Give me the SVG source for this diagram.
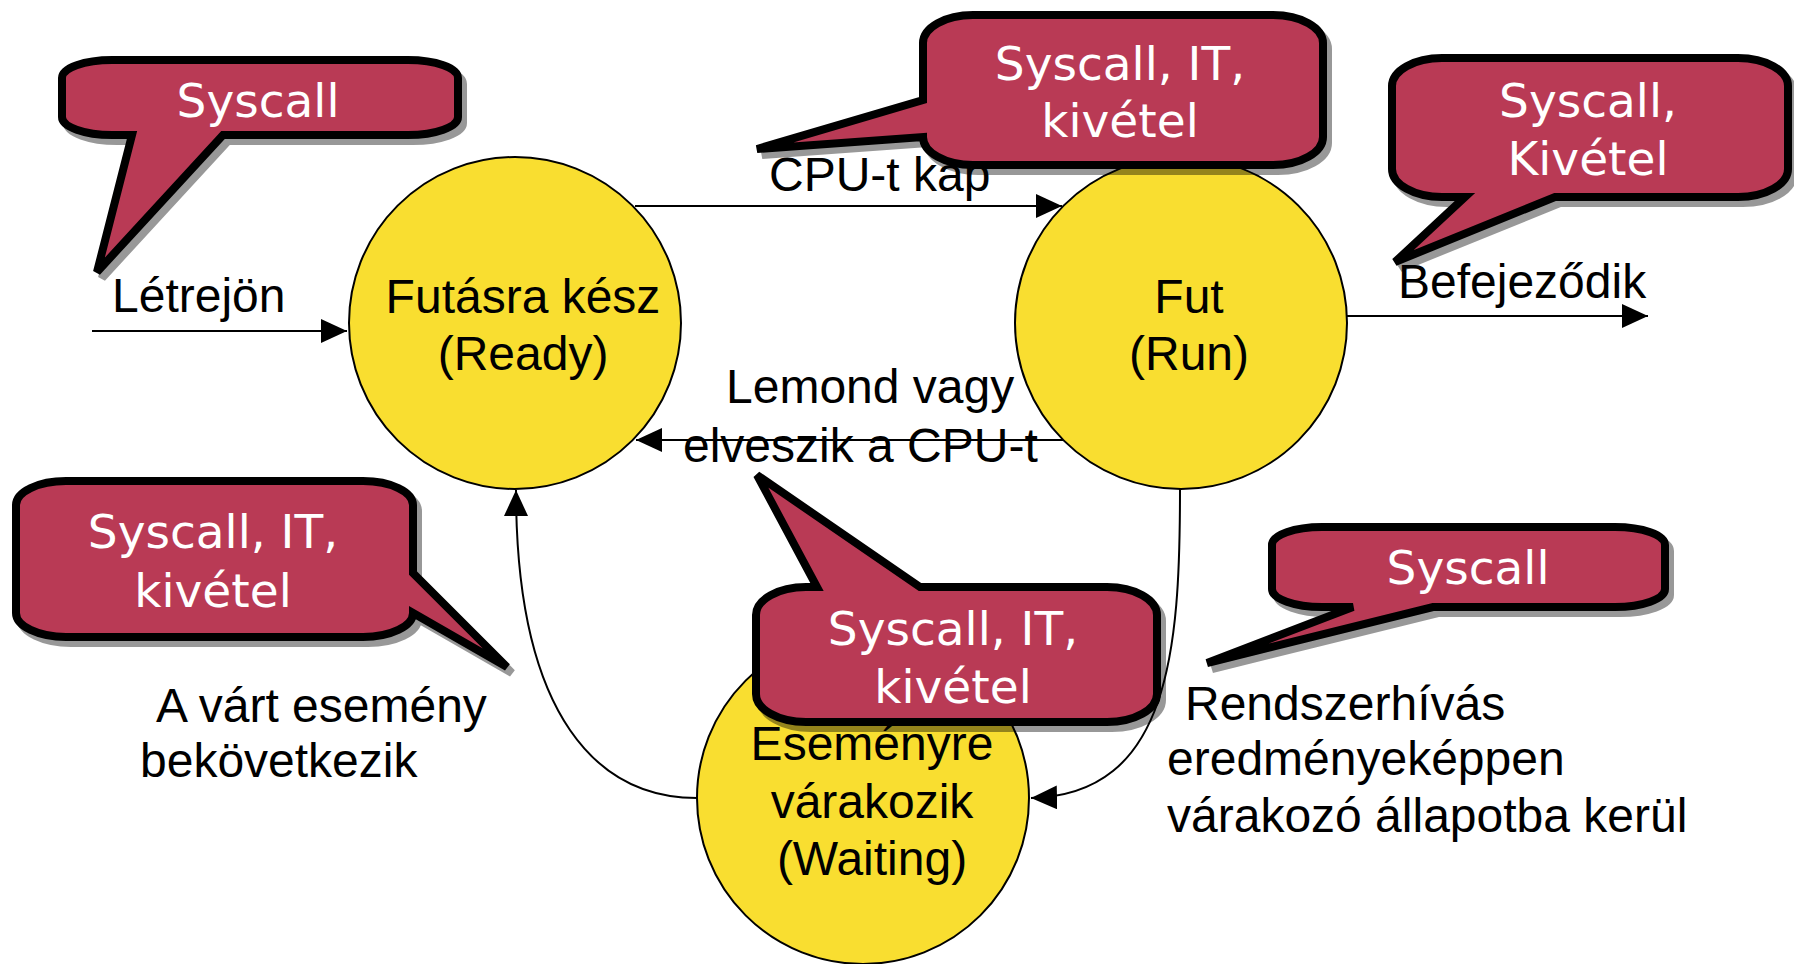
<svg xmlns="http://www.w3.org/2000/svg" width="1794" height="964" viewBox="0 0 1794 964">
<defs>
<style>
.state{fill:#F9DE30;stroke:#000;stroke-width:2}
.conn{fill:none;stroke:#000;stroke-width:2}
.lbl{font-family:"Liberation Sans",Arial,sans-serif;font-size:48px;fill:#000}
.st{font-family:"Liberation Sans",Arial,sans-serif;font-size:48px;fill:#000;text-anchor:middle}
.bub{fill:#B93A55;stroke:#000;stroke-width:8;stroke-linejoin:miter}
.shd{fill:#000;stroke:#000;stroke-width:8;opacity:0.4}
.bt{font-family:"DejaVu Sans",Verdana,sans-serif;font-size:47px;fill:#fff;text-anchor:middle}
</style>
<marker id="arr" markerUnits="userSpaceOnUse" markerWidth="28" markerHeight="26" refX="26" refY="12" orient="auto">
<path d="M0,0 L26,12 L0,24 Z" fill="#000"/>
</marker>
</defs>
<rect width="1794" height="964" fill="#fff"/>

<g id="ready">
<circle class="state" cx="515" cy="323" r="166"/>
<text class="st" x="523" y="313">Futásra kész</text>
<text class="st" x="523" y="370">(Ready)</text>
</g>
<g id="run">
<circle class="state" cx="1181" cy="323" r="166"/>
<text class="st" x="1189" y="313">Fut</text>
<text class="st" x="1189" y="370">(Run)</text>
</g>
<g id="waiting">
<circle class="state" cx="863" cy="798" r="166"/>
<text class="st" x="872" y="760">Eseményre</text>
<text class="st" x="872" y="818">várakozik</text>
<text class="st" x="872" y="875">(Waiting)</text>
</g>

<g id="connectors">
<path class="conn" d="M92,331 H347" marker-end="url(#arr)"/>
<path class="conn" d="M635,206 H1062" marker-end="url(#arr)"/>
<path class="conn" d="M1063,440 H636" marker-end="url(#arr)"/>
<path class="conn" d="M1347,316 H1648" marker-end="url(#arr)"/>
<path class="conn" d="M1180,489 C1180,650 1170,795 1031,798" marker-end="url(#arr)"/>
<path class="conn" d="M697,798 C600,798 516,720 516,490" marker-end="url(#arr)"/>
</g>

<g id="labels">
<text class="lbl" x="112" y="312">Létrejön</text>
<text class="lbl" x="769" y="191">CPU-t kap</text>
<text class="lbl" x="726" y="403">Lemond vagy</text>
<text class="lbl" x="683" y="462">elveszik a CPU-t</text>
<text class="lbl" x="1398" y="298">Befejeződik</text>
<text class="lbl" x="156" y="722">A várt esemény</text>
<text class="lbl" x="140" y="777">bekövetkezik</text>
<text class="lbl" x="1185" y="720">Rendszerhívás</text>
<text class="lbl" x="1167" y="775">eredményeképpen</text>
<text class="lbl" x="1167" y="832">várakozó állapotba kerül</text>
</g>

<g id="bubble1">
<path class="shd" transform="translate(5,6)" d="M112,60 H408 A50 18 0 0 1 458,78 V117 A50 18 0 0 1 408,135 H223 L97,272 L132,135 H112 A50 18 0 0 1 62,117 V78 A50 18 0 0 1 112,60 Z"/>
<path class="bub" d="M112,60 H408 A50 18 0 0 1 458,78 V117 A50 18 0 0 1 408,135 H223 L97,272 L132,135 H112 A50 18 0 0 1 62,117 V78 A50 18 0 0 1 112,60 Z"/>
<text class="bt" x="258" y="117">Syscall</text>
</g>
<g id="bubble2">
<path class="shd" transform="translate(5,6)" d="M973,15 H1273 A50 28 0 0 1 1323,43 V137 A50 28 0 0 1 1273,165 H973 A50 28 0 0 1 923,137 L757,149 L923,100 V43 A50 28 0 0 1 973,15 Z"/>
<path class="bub" d="M973,15 H1273 A50 28 0 0 1 1323,43 V137 A50 28 0 0 1 1273,165 H973 A50 28 0 0 1 923,137 L757,149 L923,100 V43 A50 28 0 0 1 973,15 Z"/>
<text class="bt" x="1120" y="80">Syscall, IT,</text>
<text class="bt" x="1120" y="137">kivétel</text>
</g>
<g id="bubble3">
<path class="shd" transform="translate(5,6)" d="M1442,58 H1738 A50 28 0 0 1 1788,86 V169 A50 28 0 0 1 1738,197 H1555 L1395,262 L1465,197 H1442 A50 28 0 0 1 1392,169 V86 A50 28 0 0 1 1442,58 Z"/>
<path class="bub" d="M1442,58 H1738 A50 28 0 0 1 1788,86 V169 A50 28 0 0 1 1738,197 H1555 L1395,262 L1465,197 H1442 A50 28 0 0 1 1392,169 V86 A50 28 0 0 1 1442,58 Z"/>
<text class="bt" x="1588" y="117">Syscall,</text>
<text class="bt" x="1588" y="175">Kivétel</text>
</g>
<g id="bubble4">
<path class="shd" transform="translate(5,6)" d="M66,481 H363 A50 24 0 0 1 413,505 V573 L507,667 L413,613 A50 24 0 0 1 363,637 H66 A50 24 0 0 1 16,613 V505 A50 24 0 0 1 66,481 Z"/>
<path class="bub" d="M66,481 H363 A50 24 0 0 1 413,505 V573 L507,667 L413,613 A50 24 0 0 1 363,637 H66 A50 24 0 0 1 16,613 V505 A50 24 0 0 1 66,481 Z"/>
<text class="bt" x="213" y="548">Syscall, IT,</text>
<text class="bt" x="213" y="607">kivétel</text>
</g>
<g id="bubble5">
<path class="shd" transform="translate(5,6)" d="M806,587 H817 L757,475 L920,587 H1107 A50 28 0 0 1 1157,615 V694 A50 28 0 0 1 1107,722 H806 A50 28 0 0 1 756,694 V615 A50 28 0 0 1 806,587 Z"/>
<path class="bub" d="M806,587 H817 L757,475 L920,587 H1107 A50 28 0 0 1 1157,615 V694 A50 28 0 0 1 1107,722 H806 A50 28 0 0 1 756,694 V615 A50 28 0 0 1 806,587 Z"/>
<text class="bt" x="953" y="645">Syscall, IT,</text>
<text class="bt" x="953" y="703">kivétel</text>
</g>
<g id="bubble6">
<path class="shd" transform="translate(5,6)" d="M1322,527 H1615 A50 18 0 0 1 1665,545 V589 A50 18 0 0 1 1615,607 H1433 L1207,663 L1353,607 H1322 A50 18 0 0 1 1272,589 V545 A50 18 0 0 1 1322,527 Z"/>
<path class="bub" d="M1322,527 H1615 A50 18 0 0 1 1665,545 V589 A50 18 0 0 1 1615,607 H1433 L1207,663 L1353,607 H1322 A50 18 0 0 1 1272,589 V545 A50 18 0 0 1 1322,527 Z"/>
<text class="bt" x="1468" y="584">Syscall</text>
</g>
</svg>
